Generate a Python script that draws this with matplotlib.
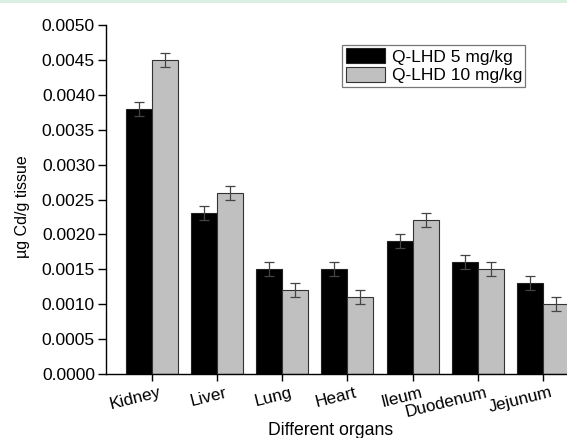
import matplotlib
matplotlib.use("Agg")
import matplotlib.pyplot as plt
import matplotlib.transforms as mtransforms
import numpy as np
from matplotlib.patches import Rectangle

organs = ["Kidney", "Liver", "Lung", "Heart", "Ileum", "Duodenum", "Jejunum"]
dose5 = [0.0038, 0.0023, 0.0015, 0.0015, 0.0019, 0.0016, 0.0013]
dose10 = [0.0045, 0.0026, 0.0012, 0.0011, 0.0022, 0.0015, 0.0010]
err5 = [0.0001, 0.0001, 0.0001, 0.0001, 0.0001, 0.0001, 0.0001]
err10 = [0.0001, 0.0001, 0.0001, 0.0001, 0.0001, 0.0001, 0.0001]
yticks = [0.0000, 0.0005, 0.0010, 0.0015, 0.0020, 0.0025, 0.0030, 0.0035, 0.0040, 0.0045, 0.0050]

plt.rcParams['font.family'] = ['Liberation Sans', 'DejaVu Sans']

fig = plt.figure(figsize=(5.67, 4.38), dpi=100)
fig.patches.append(Rectangle((0, 0.993), 1, 0.007, transform=fig.transFigure,
                             facecolor='#d9efe2', edgecolor='none', zorder=0))
ax = fig.add_axes([0.187, 0.146, 0.813, 0.797])

x = np.arange(len(organs))
w = 0.4
ekw = dict(ecolor='#444444', elinewidth=0.9, capsize=3.5, capthick=0.9)
ax.bar(x - w/2, dose5, w, color='black', edgecolor='#222222', linewidth=0.8,
       yerr=err5, error_kw=ekw, label='Q-LHD 5 mg/kg')
ax.bar(x + w/2, dose10, w, color='#c0c0c0', edgecolor='#333333', linewidth=0.8,
       yerr=err10, error_kw=ekw, label='Q-LHD 10 mg/kg')

ax.set_xlim(-0.705, 6.37)
ax.set_ylim(0, 0.005)
ax.set_yticks(yticks)
ax.set_yticklabels([f"{v:.4f}" for v in yticks], fontsize=12.5)
ax.set_xticks(x)
ax.tick_params(axis='y', direction='out', length=6, width=1, pad=2)
ax.tick_params(axis='x', direction='out', length=5, width=1, pad=3)
ax.set_xticklabels(organs, rotation=14, fontsize=12.3, ha='right', va='top')
offset = mtransforms.ScaledTranslation(11/100, 0, fig.dpi_scale_trans)
for lab in ax.get_xticklabels():
    lab.set_transform(lab.get_transform() + offset)
for s in ['top', 'right']:
    ax.spines[s].set_visible(False)
for s in ['left', 'bottom']:
    ax.spines[s].set_linewidth(1)

ax.set_ylabel('µg Cd/g tissue', fontsize=11.5)
ax.yaxis.set_label_coords(-0.165, 0.48)
ax.set_xlabel('Different organs', fontsize=12.7, va='top')
ax.xaxis.set_label_coords(0.488, -0.138)

leg = ax.legend(loc='upper left', bbox_to_anchor=(0.512, 0.943), fontsize=12.5,
                frameon=True, fancybox=False, edgecolor='#555555',
                handlelength=2.3, handleheight=0.95, handletextpad=0.35,
                borderpad=0.2, labelspacing=0.12, borderaxespad=0)
leg.get_frame().set_linewidth(0.9)

fig.savefig('out.png', dpi=100)
